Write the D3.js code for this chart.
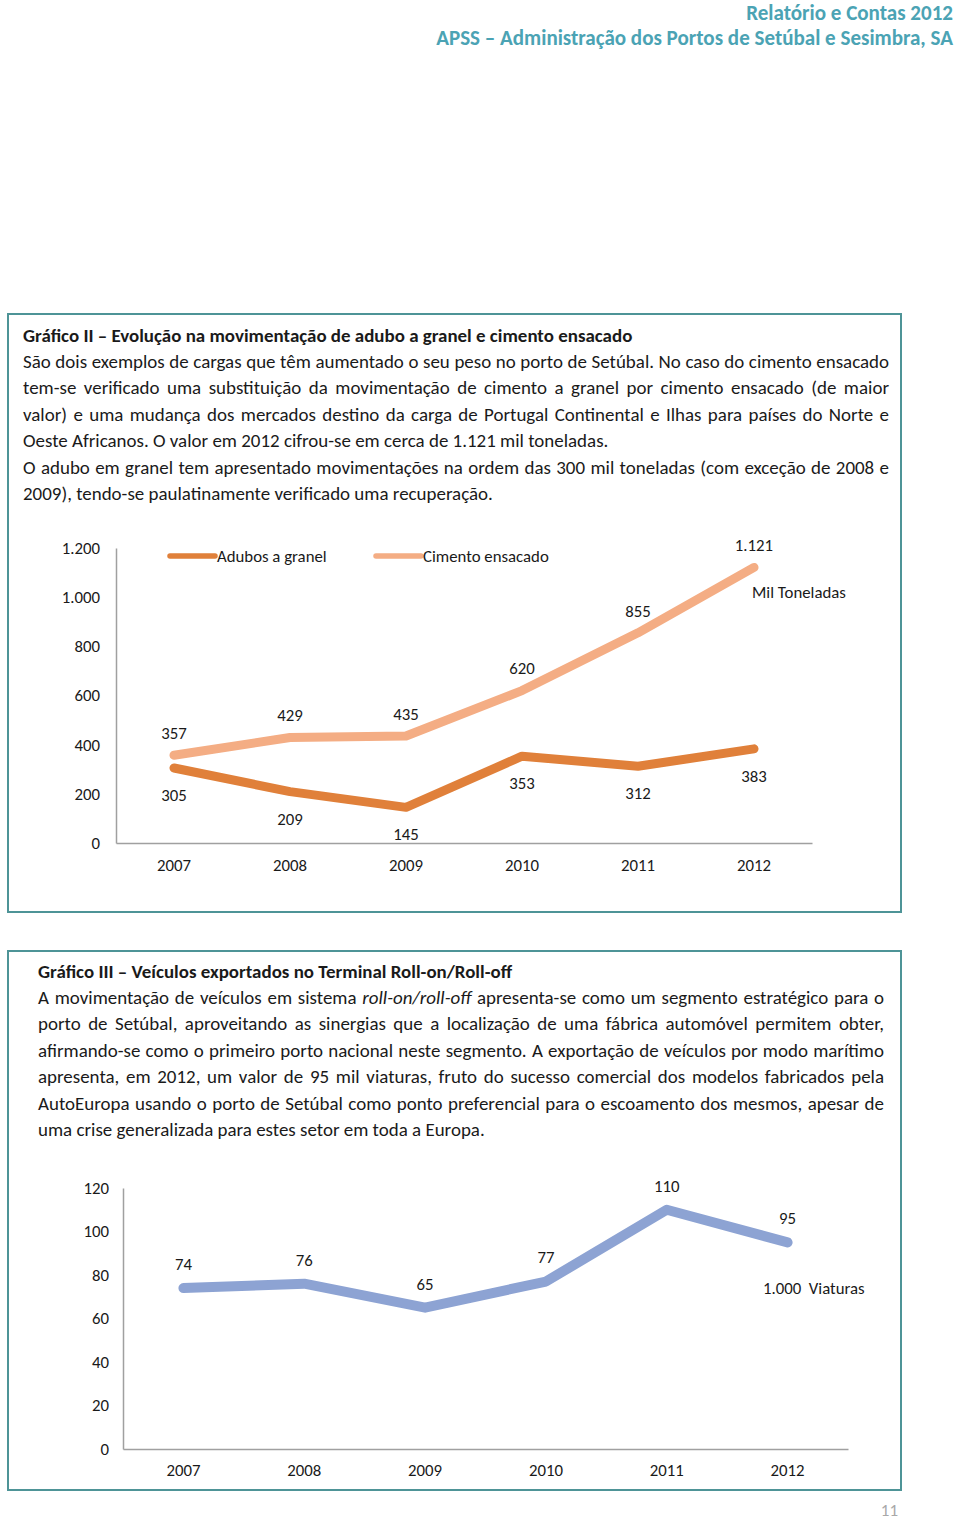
<!DOCTYPE html>
<html><head><meta charset="utf-8">
<script src="https://cdn.jsdelivr.net/npm/d3@7"></script>
<style>
html,body{margin:0;padding:0;background:#fff;}
svg{display:block;}
text{font-family:Carlito, Lato, "Open Sans", sans-serif;}
</style></head>
<body>
<svg id="page" width="960" height="1520"></svg>
<script>
// ---------- DATA ----------
const years = ["2007","2008","2009","2010","2011","2012"];
const adubos = [305, 209, 145, 353, 312, 383];
const cimento = [357, 429, 435, 620, 855, 1121];
const ticks1 = [0, 200, 400, 600, 800, 1000, 1200];
const veiculos = [74, 76, 65, 77, 110, 95];
const ticks2 = [0, 20, 40, 60, 80, 100, 120];
const seriesNames = ["Adubos a granel", "Cimento ensacado"];

const headerLines = ["Relatório e Contas 2012", "APSS – Administração dos Portos de Setúbal e Sesimbra, SA"];
const para1 = [
  {t:"Gráfico II – Evolução na movimentação de adubo a granel e cimento ensacado", bold:true},
  {t:"São dois exemplos de cargas que têm aumentado o seu peso no porto de Setúbal. No caso do cimento ensacado", j:true},
  {t:"tem-se verificado uma substituição da movimentação de cimento a granel por cimento ensacado (de maior", j:true},
  {t:"valor) e uma mudança dos mercados destino da carga de Portugal Continental e Ilhas para países do Norte e", j:true},
  {t:"Oeste Africanos. O valor em 2012 cifrou-se em cerca de 1.121 mil toneladas."},
  {t:"O adubo em granel tem apresentado movimentações na ordem das 300 mil toneladas (com exceção de 2008 e", j:true},
  {t:"2009), tendo-se paulatinamente verificado uma recuperação."}
];
const para2 = [
  {t:"Gráfico III – Veículos exportados no Terminal Roll-on/Roll-off", bold:true},
  {parts:[["A movimentação de veículos em sistema ",false],["roll-on/roll-off",true],[" apresenta-se como um segmento estratégico para o",false]], j:true},
  {t:"porto de Setúbal, aproveitando as sinergias que a localização de uma fábrica automóvel permitem obter,", j:true},
  {t:"afirmando-se como o primeiro porto nacional neste segmento. A exportação de veículos por modo marítimo", j:true},
  {t:"apresenta, em 2012, um valor de 95 mil viaturas, fruto do sucesso comercial dos modelos fabricados pela", j:true},
  {t:"AutoEuropa usando o porto de Setúbal como ponto preferencial para o escoamento dos mesmos, apesar de", j:true},
  {t:"uma crise generalizada para estes setor em toda a Europa."}
];

// ---------- STYLE ----------
const teal = "#4E9497";
const headColor = "#4BA3B4";
const cAdubos = "#E0803A";
const cCimento = "#F4AD84";
const cVeic = "#8DA3D3";
const axisColor = "#A0A0A0";
const txt = "#1a1a1a";
const lbl = 16.8;

const svg = d3.select("#page");
const locale = d3.formatLocale({decimal:",", thousands:".", grouping:[3], currency:["€",""]});
const fmt = locale.format(",");

function measure(str, size, weight, style){
  const t = svg.append("text").attr("font-size", size).attr("font-weight", weight||"normal")
    .attr("font-style", style||"normal").text(str);
  const w = t.node().getComputedTextLength(); t.remove(); return w;
}

// header
(function(){
  const s1 = 19 * 517 / measure(headerLines[1], 19, "bold");
  headerLines.forEach((h,i)=>{
    svg.append("text").attr("x",953).attr("y",[12.5,37.5][i]).attr("dy","0.35em")
      .attr("text-anchor","end").attr("font-weight","bold").attr("font-size",s1)
      .attr("fill",headColor).text(h);
  });
})();

// frames
svg.append("rect").attr("x",8).attr("y",314).attr("width",893).attr("height",598)
  .attr("fill","none").attr("stroke",teal).attr("stroke-width",2);
svg.append("rect").attr("x",8).attr("y",951).attr("width",893).attr("height",539)
  .attr("fill","none").attr("stroke",teal).attr("stroke-width",2);

// paragraph text
const bodySize = 17 * 586 / measure(para1[4].t, 17);
function drawPara(lines, x0, x1, y0){
  lines.forEach((ln,i)=>{
    const t = svg.append("text").attr("x",x0).attr("y",y0 + i*26.4).attr("dy","0.35em")
      .attr("font-size",bodySize).attr("fill",txt).attr("font-weight", ln.bold?"bold":"normal")
      .style("white-space","pre");
    const parts = ln.parts || [[ln.t,false]];
    parts.forEach(p=>t.append("tspan").attr("font-style",p[1]?"italic":"normal").text(p[0]));
    if(ln.j){
      const full = parts.map(p=>p[0]).join("");
      const spaces = (full.match(/ /g)||[]).length;
      const w = t.node().getComputedTextLength();
      t.attr("word-spacing", (x1-x0-w)/spaces);
    }
  });
}
drawPara(para1, 23, 889, 335);
drawPara(para2, 38, 884, 971);

// ---------- CHART 1 ----------
(function(){
  const x = d3.scaleBand().domain(years).range([116,812]);
  const y = d3.scaleLinear().domain([0,1200]).range([843,548]);
  const cx = d => x(d) + x.bandwidth()/2;
  const g = svg.append("g");
  const ax = g.append("g").attr("transform","translate(116,0)")
    .call(d3.axisLeft(y).tickValues(ticks1).tickFormat(fmt).tickSize(0).tickPadding(16));
  const bx = g.append("g").attr("transform","translate(0,843)")
    .call(d3.axisBottom(x).tickSize(0).tickPadding(16));
  [ax,bx].forEach(a=>{
    a.select(".domain").attr("stroke",axisColor).attr("stroke-width",1.5);
    a.selectAll("text").attr("font-size",lbl).attr("fill",txt).attr("font-family",null);
  });
  const line = d3.line().x((d,i)=>cx(years[i])).y(d=>y(d));
  g.append("path").datum(cimento).attr("d",line).attr("fill","none").attr("stroke",cCimento)
    .attr("stroke-width",9).attr("stroke-linecap","round").attr("stroke-linejoin","round");
  g.append("path").datum(adubos).attr("d",line).attr("fill","none").attr("stroke",cAdubos)
    .attr("stroke-width",9).attr("stroke-linecap","round").attr("stroke-linejoin","round");
  g.selectAll(".lc").data(cimento).join("text").attr("x",(d,i)=>cx(years[i])).attr("y",d=>y(d)-22)
    .attr("dy","0.35em").attr("text-anchor","middle").attr("font-size",lbl).attr("fill",txt).text(d=>fmt(d));
  g.selectAll(".la").data(adubos).join("text").attr("x",(d,i)=>cx(years[i])).attr("y",d=>y(d)+27)
    .attr("dy","0.35em").attr("text-anchor","middle").attr("font-size",lbl).attr("fill",txt).text(d=>fmt(d));
  const leg = [[170,215,217,cAdubos],[376,421,423,cCimento]];
  seriesNames.forEach((n,i)=>{
    const L = leg[i];
    g.append("line").attr("x1",L[0]).attr("x2",L[1]).attr("y1",556).attr("y2",556)
      .attr("stroke",L[3]).attr("stroke-width",5.5).attr("stroke-linecap","round");
    g.append("text").attr("x",L[2]).attr("y",556).attr("dy","0.35em").attr("font-size",lbl).attr("fill",txt).text(n);
  });
  g.append("text").attr("x",752).attr("y",592).attr("dy","0.35em").attr("font-size",lbl).attr("fill",txt).text("Mil Toneladas");
})();

// ---------- CHART 2 ----------
(function(){
  const x = d3.scaleBand().domain(years).range([123,848]);
  const y = d3.scaleLinear().domain([0,120]).range([1449,1188]);
  const cx = d => x(d) + x.bandwidth()/2;
  const g = svg.append("g");
  const ax = g.append("g").attr("transform","translate(123,0)")
    .call(d3.axisLeft(y).tickValues(ticks2).tickFormat(fmt).tickSize(0).tickPadding(14));
  const bx = g.append("g").attr("transform","translate(0,1449)")
    .call(d3.axisBottom(x).tickSize(0).tickPadding(15));
  [ax,bx].forEach(a=>{
    a.select(".domain").attr("stroke",axisColor).attr("stroke-width",1.5);
    a.selectAll("text").attr("font-size",lbl).attr("fill",txt).attr("font-family",null);
  });
  const line = d3.line().x((d,i)=>cx(years[i])).y(d=>y(d));
  g.append("path").datum(veiculos).attr("d",line).attr("fill","none").attr("stroke",cVeic)
    .attr("stroke-width",10).attr("stroke-linecap","round").attr("stroke-linejoin","round");
  g.selectAll(".lv").data(veiculos).join("text").attr("x",(d,i)=>cx(years[i])).attr("y",d=>y(d)-24)
    .attr("dy","0.35em").attr("text-anchor","middle").attr("font-size",lbl).attr("fill",txt).text(d=>fmt(d));
  g.append("text").attr("x",763).attr("y",1288).attr("dy","0.35em").attr("font-size",lbl).attr("fill",txt)
    .style("white-space","pre").text("1.000  Viaturas");
})();

svg.append("text").attr("x",898).attr("y",1510).attr("dy","0.35em").attr("text-anchor","end")
  .attr("font-size",17).attr("fill","#A8A8A8").text("11");
</script>
</body></html>
